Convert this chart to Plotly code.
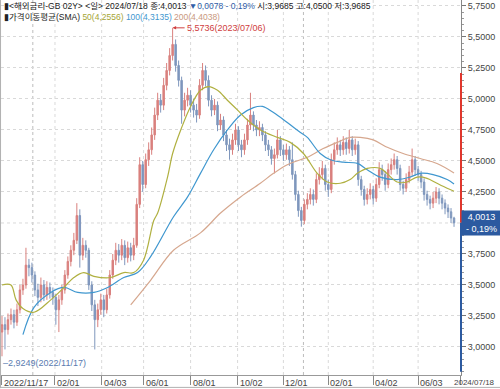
import plotly.graph_objects as go

# ---- data (3-trading-day candles) ----
open_first = 3.12
close = [3.18,3.14,3.22,3.26,3.20,3.30,3.46,3.50,3.66,3.64,
         3.58,3.46,3.40,3.50,3.42,3.48,3.44,3.40,3.30,3.38,
         3.46,3.58,3.69,3.78,3.86,4.06,3.74,3.82,3.78,3.50,
         3.34,3.22,3.30,3.38,3.30,3.42,3.58,3.70,3.78,3.74,
         3.82,3.72,3.80,3.74,3.82,4.15,4.47,4.31,4.51,4.59,
         4.71,4.87,4.99,4.95,5.11,5.23,5.35,5.44,5.27,5.15,
         4.91,4.99,5.03,4.95,4.91,4.87,5.11,5.23,5.15,4.99,
         4.91,4.95,4.79,4.83,4.71,4.63,4.59,4.67,4.75,4.63,
         4.59,4.67,4.79,4.87,4.79,4.75,4.77,4.71,4.63,4.59,
         4.52,4.55,4.67,4.59,4.55,4.59,4.51,4.39,4.23,4.10,
         4.02,4.15,4.19,4.23,4.19,4.35,4.39,4.44,4.31,4.27,
         4.51,4.59,4.63,4.59,4.65,4.60,4.67,4.59,4.63,4.35,
         4.27,4.19,4.23,4.27,4.20,4.31,4.43,4.39,4.31,4.43,
         4.47,4.51,4.44,4.31,4.28,4.35,4.41,4.51,4.43,4.39,
         4.33,4.23,4.19,4.16,4.20,4.25,4.20,4.16,4.12,4.09,
         4.04,4.0013]
high = [3.25,3.24,3.27,3.31,3.30,3.35,3.50,3.55,3.80,3.71,
        3.68,3.61,3.51,3.56,3.54,3.53,3.52,3.48,3.43,3.42,
        3.50,3.62,3.73,3.82,3.92,4.16,4.11,3.88,3.86,3.80,
        3.53,3.38,3.35,3.43,3.42,3.47,3.62,3.75,3.84,3.83,
        3.87,3.86,3.85,3.84,3.88,4.20,4.53,4.50,4.56,4.65,
        4.77,4.93,5.05,5.04,5.17,5.29,5.41,5.5736,5.48,5.31,
        5.18,5.05,5.09,5.07,5.00,4.96,5.16,5.29,5.27,5.19,
        5.03,5.00,4.98,4.88,4.86,4.75,4.68,4.72,4.80,4.78,
        4.67,4.72,4.84,5.05,4.90,4.83,4.82,4.80,4.74,4.67,
        4.62,4.60,4.75,4.70,4.63,4.64,4.62,4.65,4.42,4.26,
        4.13,4.19,4.24,4.28,4.27,4.40,4.45,4.50,4.47,4.35,
        4.56,4.65,4.69,4.67,4.70,4.69,4.75,4.70,4.68,4.66,
        4.38,4.30,4.28,4.32,4.30,4.36,4.49,4.47,4.42,4.48,
        4.52,4.56,4.54,4.47,4.34,4.40,4.46,4.60,4.54,4.46,
        4.42,4.36,4.26,4.22,4.25,4.29,4.28,4.23,4.19,4.15,
        4.12,4.05]
low = [2.9249,2.98,3.10,3.18,3.15,3.17,3.27,3.42,3.47,3.57,
       3.52,3.41,3.33,3.36,3.37,3.38,3.39,3.34,3.18,3.12,
       3.34,3.43,3.55,3.65,3.74,3.83,3.64,3.70,3.72,3.46,
       3.29,2.98,3.16,3.26,3.24,3.27,3.39,3.55,3.66,3.68,
       3.70,3.66,3.68,3.69,3.70,3.80,4.12,4.25,4.28,4.46,
       4.55,4.67,4.83,4.89,4.91,5.07,5.19,5.31,5.22,5.10,
       4.80,4.86,4.94,4.89,4.85,4.81,4.84,5.07,5.10,4.94,
       4.86,4.87,4.74,4.75,4.66,4.58,4.51,4.55,4.63,4.58,
       4.53,4.55,4.63,4.75,4.74,4.70,4.70,4.66,4.58,4.54,
       4.47,4.40,4.52,4.54,4.50,4.51,4.46,4.35,4.18,4.05,
       3.97,3.99,4.11,4.15,4.14,4.16,4.31,4.35,4.26,4.21,
       4.24,4.47,4.55,4.54,4.55,4.55,4.56,4.54,4.55,4.30,
       4.22,4.14,4.15,4.19,4.15,4.17,4.28,4.34,4.26,4.28,
       4.39,4.43,4.39,4.26,4.23,4.25,4.32,4.38,4.38,4.34,
       4.28,4.18,4.14,4.11,4.12,4.16,4.15,4.11,4.07,4.04,
       4.00,3.9685]
opens = [open_first] + close[:-1]
idx = list(range(len(close)))

ma50_x = [0,3,4.7,7,10.7,16.3,20.7,24,27.3,30.7,36.3,40.7,44,47.3,50.7,52,55.3,57,59.7,63,66.3,69,72,75.3,78.7,82,86.3,92,96.3,100.7,105.3,108.7,113,116.3,118.7,122,126.3,132,135.3,138.7,142,145.3,148.7,151]
ma50_v = [3.50,3.50,3.38,3.31,3.28,3.38,3.48,3.56,3.60,3.57,3.56,3.60,3.60,3.70,4.02,4.08,4.37,4.56,4.75,4.94,5.07,5.10,5.07,4.99,4.91,4.83,4.75,4.69,4.65,4.56,4.40,4.33,4.32,4.35,4.40,4.44,4.44,4.33,4.33,4.37,4.36,4.32,4.28,4.2556]
ma100_x = [7,10.7,16.3,20.7,25.3,30.7,35.3,40.7,45.3,49.7,57.3,62,66.3,70.7,75.3,79.7,84,87,90.7,95.3,99.7,102,106.3,109.7,114,118.7,122,126.3,132,136.3,139.7,144,148.7,151]
ma100_v = [3.10,3.32,3.44,3.48,3.44,3.44,3.48,3.56,3.60,3.73,4.05,4.21,4.40,4.59,4.75,4.87,4.93,4.94,4.89,4.81,4.73,4.69,4.56,4.51,4.49,4.48,4.43,4.37,4.35,4.37,4.40,4.39,4.35,4.3135]
ma200_x = [43,49.7,57.3,66.3,73,79.7,86.3,90.7,95.3,99.7,102,107.3,112,116.3,119.7,124,128.7,134,139.7,145.3,151]
ma200_v = [3.34,3.54,3.78,3.92,4.08,4.21,4.32,4.40,4.47,4.51,4.53,4.60,4.65,4.69,4.69,4.67,4.61,4.56,4.52,4.48,4.4038]

tick_idx = [0, 17.7, 33.3, 47.3, 63, 78.7, 94, 109, 124, 139, 153.3]
tick_labels = ["2022/11/17", "02/01", "04/03", "06/01", "08/01", "10/02",
               "12/01", "02/01", "04/02", "06/03", "2024/07/18"]
year_idx = [10.3, 100.7]
y_ticks = [3.0, 3.25, 3.5, 3.75, 4.0, 4.25, 4.5, 4.75, 5.0, 5.25, 5.5, 5.75]

last_price = 4.0013
range_top = 5.21
range_bottom = 2.80
max_i, max_v = 57, 5.5736

C_UP = "#d9807e"
C_DN = "#7f97bd"
C_MA50 = "#b0b040"
C_MA100 = "#3f97cf"
C_MA200 = "#d6a78e"
FONT = "Liberation Sans, Arial, sans-serif"
KFONT = "Liberation Sans, Noto Sans CJK KR, sans-serif"

# the 4,0000 label sits under the current-price box, so it is not labelled
label_ticks = [v for v in y_ticks if abs(v - last_price) > 0.1]

fig = go.Figure()
fig.add_trace(go.Candlestick(
    x=idx, open=opens, high=high, low=low, close=close,
    increasing=dict(line=dict(color=C_UP, width=1), fillcolor=C_UP),
    decreasing=dict(line=dict(color=C_DN, width=1), fillcolor=C_DN),
    whiskerwidth=0, hoverinfo="skip", showlegend=False))
for xs, vs, col in [(ma200_x, ma200_v, C_MA200), (ma100_x, ma100_v, C_MA100), (ma50_x, ma50_v, C_MA50)]:
    fig.add_trace(go.Scatter(x=xs, y=vs, mode="lines", line=dict(color=col, width=1.2, shape="spline"),
                             hoverinfo="skip", showlegend=False))

shapes = []
for t in tick_idx[1:-1]:
    shapes.append(dict(type="line", xref="x", yref="paper", x0=t, x1=t, y0=0, y1=1,
                       line=dict(color="#d9d9d9", width=1, dash="dot"), layer="below"))
for t in year_idx:
    shapes.append(dict(type="line", xref="x", yref="paper", x0=t, x1=t, y0=0, y1=1,
                       line=dict(color="#bdbdbd", width=1, dash="dot"), layer="below"))
for v in y_ticks:
    if v not in label_ticks:
        shapes.append(dict(type="line", xref="paper", yref="y", x0=0, x1=1, y0=v, y1=v,
                           line=dict(color="#d9d9d9", width=1, dash="dot"), layer="below"))
        shapes.append(dict(type="line", xref="paper", yref="y", x0=1, x1=1.009, y0=v, y1=v,
                           line=dict(color="#777", width=1)))
# frame
shapes.append(dict(type="line", xref="paper", yref="paper", x0=-0.001, x1=-0.001, y0=-0.035, y1=1,
                   line=dict(color="#b0b0b0", width=1)))
shapes.append(dict(type="line", xref="paper", yref="paper", x0=0, x1=1.09, y0=-0.033, y1=-0.033,
                   line=dict(color="#b0b0b0", width=1)))
# price range bar on axis
shapes.append(dict(type="line", xref="paper", yref="y", x0=1.0, x1=1.0, y0=last_price, y1=range_top,
                   line=dict(color="#e0362c", width=2)))
shapes.append(dict(type="line", xref="paper", yref="y", x0=1.0, x1=1.0, y0=range_bottom, y1=last_price,
                   line=dict(color="#2c5aa0", width=2)))

ann = []
ann.append(dict(xref="paper", yref="paper", x=0.003, y=0.984, xanchor="left", yanchor="middle",
                showarrow=False, font=dict(family=KFONT, size=8.5, color="#222"),
                text="▮&lt;해외금리-GB 02Y&gt; &lt;일&gt; 2024/07/18 종:4,0013 "
                     "<span style='color:#2f5da8'>▼0,0078 - 0,19%</span> 시:3,9685 고:4,0500 저:3,9685"))
ann.append(dict(xref="paper", yref="paper", x=0.003, y=0.955, xanchor="left", yanchor="middle",
                showarrow=False, font=dict(family=KFONT, size=8.5, color="#222"),
                text="▮가격이동평균(SMA) <span style='color:#a5a534'>50(4,2556)</span> "
                     "<span style='color:#3f97cf'>100(4,3135)</span> "
                     "<span style='color:#c9987e'>200(4,4038)</span>"))
ann.append(dict(x=max_i, y=max_v, xref="x", yref="y", text="5,5736(2023/07/06)",
                showarrow=True, ax=12, ay=0, xanchor="left", arrowcolor="#d04040",
                arrowhead=2, arrowsize=0.7, arrowwidth=1,
                font=dict(family=FONT, size=9, color="#d04040")))
ann.append(dict(xref="paper", yref="paper", x=0.0, y=0.032, xanchor="left", yanchor="middle",
                showarrow=False, text="–2,9249(2022/11/17)",
                font=dict(family=FONT, size=9, color="#5a7bb0")))
ann.append(dict(xref="paper", yref="y", x=1.0, y=last_price, xanchor="left", yanchor="middle",
                showarrow=False, text="4,0013<br>- 0,19%", bgcolor="#2c5aa0", width=37,
                borderpad=1, align="center", font=dict(family=FONT, size=9, color="white")))
for t, lab in zip(tick_idx[:-1], tick_labels[:-1]):
    ann.append(dict(xref="x", yref="paper", x=t, y=-0.003, xanchor="left", yanchor="top",
                    showarrow=False, text=lab,
                    font=dict(family=FONT, size=9, color="#444")))
ann.append(dict(xref="paper", yref="paper", x=1.078, y=-0.003, xanchor="right", yanchor="top",
                showarrow=False, text=tick_labels[-1],
                font=dict(family=FONT, size=8, color="#444")))

fig.update_layout(
    width=500, height=389, margin=dict(l=1, r=39, t=0, b=14),
    paper_bgcolor="white", plot_bgcolor="white", separators=",.",
    shapes=shapes, annotations=ann, showlegend=False,
    xaxis=dict(range=[-0.33, 153.33], tickvals=tick_idx, showticklabels=False,
               ticks="outside", ticklen=9, tickcolor="#888", showgrid=False, zeroline=False,
               showline=True, linecolor="#999", rangeslider=dict(visible=False), fixedrange=True),
    yaxis=dict(side="right", range=[2.774, 5.798], tickvals=label_ticks, tickformat=".4f",
               showgrid=True, gridcolor="#d9d9d9", griddash="dot", zeroline=False,
               ticks="outside", ticklen=4, tickcolor="#777",
               minor=dict(dtick=0.05, tick0=0, ticks="outside", ticklen=2, tickcolor="#999", showgrid=False),
               showline=True, linecolor="#888",
               tickfont=dict(family=FONT, size=9, color="#444"), fixedrange=True),
)
fig.write_html("out.html", config={"displayModeBar": False},
               post_script="document.body.style.margin='0';document.body.style.padding='0';"
                           "document.body.style.overflow='hidden';")
